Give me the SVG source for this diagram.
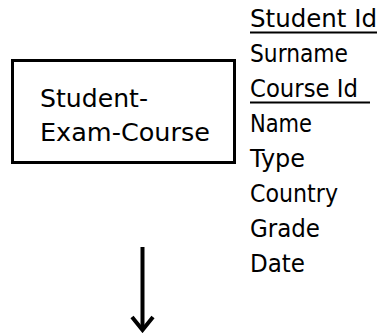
<svg xmlns="http://www.w3.org/2000/svg" width="380" height="333" viewBox="0 0 380 333">
  <style>
    .lbl { font-family: "DejaVu Sans", "Noto Sans", sans-serif; fill: #000; }
    .box { fill: #fff; stroke: #000; stroke-width: 3; }
    .attr { font-size: 24px; }
    .key { stroke: #000; stroke-width: 2; }
    .conn { fill: none; stroke: #000; stroke-width: 4; }
  </style>
  <rect width="380" height="333" fill="#fff"/>

  <!-- entity box -->
  <g id="student-exam-course">
    <rect class="box" x="12.5" y="60.5" width="222" height="102"/>
    <text class="lbl" x="40" y="107" font-size="25" textLength="108" lengthAdjust="spacingAndGlyphs">Student-</text>
    <text class="lbl" x="40" y="141" font-size="25" textLength="170" lengthAdjust="spacingAndGlyphs">Exam-Course</text>
  </g>

  <!-- attribute list -->
  <g id="attributes">
    <text class="lbl attr" x="250" y="27" textLength="127" lengthAdjust="spacingAndGlyphs">Student Id</text>
    <line class="key" x1="250" y1="32.5" x2="377" y2="32.5"/>
    <text class="lbl attr" x="250" y="62" textLength="98" lengthAdjust="spacingAndGlyphs">Surname</text>
    <text class="lbl attr" x="250" y="97" textLength="108" lengthAdjust="spacingAndGlyphs">Course Id</text>
    <line class="key" x1="250" y1="102.5" x2="370" y2="102.5"/>
    <text class="lbl attr" x="250" y="132" textLength="62" lengthAdjust="spacingAndGlyphs">Name</text>
    <text class="lbl attr" x="250" y="167" textLength="55" lengthAdjust="spacingAndGlyphs">Type</text>
    <text class="lbl attr" x="250" y="202" textLength="88" lengthAdjust="spacingAndGlyphs">Country</text>
    <text class="lbl attr" x="250" y="237" textLength="70" lengthAdjust="spacingAndGlyphs">Grade</text>
    <text class="lbl attr" x="250" y="272" textLength="55" lengthAdjust="spacingAndGlyphs">Date</text>
  </g>

  <!-- downward arrow -->
  <g id="connectors">
    <line class="conn" x1="142.5" y1="247" x2="142.5" y2="329"/>
    <polyline class="conn" points="132,317 142.5,330 153,317"/>
  </g>
</svg>
